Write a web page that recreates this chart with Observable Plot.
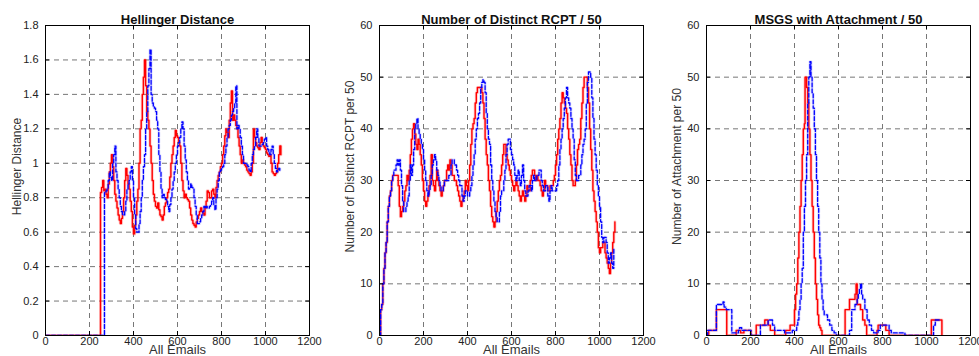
<!DOCTYPE html>
<html>
<head>
<meta charset="utf-8">
<script src="https://cdn.jsdelivr.net/npm/d3@7"></script>
<script src="https://cdn.jsdelivr.net/npm/@observablehq/plot@0.6"></script>
<style>
  html, body { margin: 0; padding: 0; background: #fff; }
  #chart { position: relative; width: 979px; height: 356px; overflow: hidden; background: #fff; }
  #chart > svg { position: absolute; top: 0; }
</style>
</head>
<body>
<div id="chart"></div>
<script>
// ---- Tick labels ----
const xTicks = [0, 200, 400, 600, 800, 1000, 1200];
const hellingerTicks = [0, 0.2, 0.4, 0.6, 0.8, 1, 1.2, 1.4, 1.6, 1.8];
const countTicks = [0, 10, 20, 30, 40, 50, 60];

// ---- Titles ----
const titles = ["Hellinger Distance", "Number of Distinct RCPT / 50", "MSGS with Attachment / 50"];
const yLabels = ["Hellinger Distance", "Number of Distinct RCPT per 50", "Number of Attachment per 50"];
const xLabel = "All Emails";

// ---- Panel 1: Hellinger distance  [email index, value] ----
const hellingerRed = [[0,0],[250,0],[250,0.83],[255,0.86],[260,0.9],[265,0.84],[270,0.85],[275,0.82],[280,0.8],[285,0.88],[290,0.95],[295,1.0],[300,1.05],[305,0.98],[310,0.9],[315,0.82],[320,0.78],[325,0.74],[330,0.7],[335,0.67],[340,0.65],[345,0.68],[350,0.72],[355,0.8],[360,0.9],[365,0.97],[370,0.93],[375,0.88],[380,0.85],[385,0.78],[390,0.72],[395,0.63],[400,0.59],[405,0.64],[410,0.7],[415,0.78],[420,0.85],[425,1.0],[430,1.2],[435,1.25],[440,1.4],[445,1.5],[450,1.6],[455,1.45],[460,1.3],[465,1.25],[470,1.2],[475,1.1],[480,1.0],[485,0.9],[490,0.82],[495,0.78],[500,0.75],[505,0.74],[510,0.77],[515,0.73],[520,0.7],[525,0.69],[530,0.67],[535,0.7],[540,0.75],[545,0.77],[550,0.8],[555,0.83],[560,0.85],[565,0.92],[570,1.0],[575,1.05],[580,1.1],[585,1.15],[590,1.19],[595,1.16],[600,1.15],[605,1.12],[610,1.1],[615,1.0],[620,0.9],[625,0.84],[630,0.8],[635,0.82],[640,0.8],[645,0.79],[650,0.78],[655,0.74],[660,0.7],[665,0.67],[670,0.65],[675,0.64],[680,0.63],[685,0.66],[690,0.68],[695,0.7],[700,0.72],[705,0.74],[710,0.72],[715,0.71],[720,0.7],[725,0.74],[730,0.78],[735,0.84],[740,0.83],[745,0.8],[750,0.8],[755,0.84],[760,0.85],[765,0.82],[770,0.8],[775,0.86],[780,0.9],[785,0.93],[790,0.95],[795,0.98],[800,1.0],[805,1.05],[810,1.1],[815,1.16],[820,1.2],[825,1.18],[830,1.15],[835,1.25],[840,1.35],[845,1.42],[850,1.25],[855,1.28],[860,1.25],[865,1.22],[870,1.2],[875,1.15],[880,1.1],[885,1.05],[890,1.0],[895,1.02],[900,1.0],[905,0.99],[910,0.98],[915,0.96],[920,0.95],[925,0.94],[930,0.93],[935,0.95],[940,1.0],[945,1.2],[950,1.15],[955,1.12],[960,1.1],[965,1.09],[970,1.08],[975,1.12],[980,1.15],[985,1.12],[990,1.1],[995,1.09],[1000,1.08],[1005,1.06],[1010,1.05],[1015,1.04],[1020,1.05],[1025,1.0],[1030,0.95],[1035,0.94],[1040,0.93],[1045,0.94],[1050,0.95],[1055,1.0],[1060,1.05],[1065,1.1],[1070,1.05]];
const hellingerBlue = [[0,0],[268,0],[268,0.83],[275,0.84],[280,0.85],[285,0.9],[290,0.95],[295,0.92],[300,0.9],[305,1.0],[310,1.05],[315,1.1],[320,0.95],[325,0.9],[330,0.85],[335,0.8],[340,0.75],[345,0.72],[350,0.7],[355,0.7],[360,0.72],[365,0.78],[370,0.85],[375,0.88],[380,0.9],[385,0.95],[390,0.98],[395,0.9],[400,0.8],[405,0.7],[410,0.62],[415,0.6],[420,0.6],[425,0.65],[430,0.72],[435,0.8],[440,0.9],[445,0.98],[450,1.05],[455,1.2],[460,1.3],[465,1.45],[470,1.55],[475,1.66],[480,1.4],[485,1.35],[490,1.33],[495,1.32],[500,1.3],[505,1.25],[510,1.2],[515,1.05],[520,0.95],[525,0.85],[530,0.8],[535,0.82],[540,0.8],[545,0.79],[550,0.78],[555,0.75],[560,0.72],[565,0.76],[570,0.8],[575,0.85],[580,0.9],[585,0.95],[590,1.0],[595,1.05],[600,1.1],[605,1.12],[610,1.15],[615,1.2],[620,1.24],[625,1.2],[630,1.1],[635,1.02],[640,0.95],[645,0.9],[650,0.85],[655,0.86],[660,0.88],[665,0.86],[670,0.85],[675,0.8],[680,0.75],[685,0.7],[690,0.65],[695,0.65],[700,0.66],[705,0.68],[710,0.7],[715,0.72],[720,0.75],[725,0.74],[730,0.75],[735,0.74],[740,0.74],[745,0.75],[750,0.76],[755,0.78],[760,0.8],[765,0.76],[770,0.73],[775,0.8],[780,0.85],[785,0.9],[790,0.95],[795,0.96],[800,0.97],[805,0.98],[810,1.0],[815,1.05],[820,1.1],[825,1.15],[830,1.2],[835,1.22],[840,1.25],[845,1.28],[850,1.3],[855,1.32],[860,1.35],[865,1.45],[870,1.2],[875,1.22],[880,1.2],[885,1.15],[890,1.1],[895,1.05],[900,1.0],[905,1.0],[910,1.0],[915,0.99],[920,0.98],[925,0.96],[930,0.95],[935,1.0],[940,1.05],[945,1.08],[950,1.1],[955,1.15],[960,1.2],[965,1.15],[970,1.1],[975,1.1],[980,1.1],[985,1.11],[990,1.12],[995,1.14],[1000,1.15],[1005,1.1],[1010,1.08],[1015,1.06],[1020,1.05],[1025,1.08],[1030,1.1],[1035,1.05],[1040,1.0],[1045,0.97],[1050,0.95],[1055,0.96],[1060,0.97],[1065,0.95]];

// ---- Panel 2: distinct recipients per 50 ----
const rcptRed = [[0,0],[5,5],[10,6],[15,10],[20,13],[25,16],[30,18],[35,22],[40,25],[45,27],[50,28],[55,30],[60,31],[70,31],[80,31],[85,29],[90,25],[95,23],[100,24],[105,25],[110,26],[115,28],[120,29],[125,31],[130,30],[135,32],[140,35],[145,38],[150,40],[155,41],[160,39],[165,37],[170,36],[175,38],[180,37],[185,35],[190,33],[195,30],[200,28],[205,26],[210,25],[215,26],[220,27],[225,29],[230,31],[235,35],[240,30],[245,29],[250,28],[255,30],[260,32],[265,30],[270,29],[275,28],[280,27],[285,28],[290,29],[295,30],[300,30],[305,32],[310,33],[315,32],[320,34],[325,33],[330,31],[335,31],[340,30],[345,30],[350,29],[355,28],[360,27],[365,26],[370,25],[375,26],[380,27],[385,28],[390,30],[395,29],[400,28],[405,30],[410,33],[415,37],[420,40],[425,41],[430,42],[435,45],[440,47],[445,48],[450,48],[455,48],[460,48],[465,47],[470,45],[475,42],[480,38],[485,35],[490,33],[495,30],[500,28],[505,25],[510,23],[515,22],[520,21],[525,22],[530,24],[535,26],[540,28],[545,30],[550,31],[555,33],[560,35],[565,37],[570,37],[575,35],[580,34],[585,33],[590,32],[595,31],[600,30],[605,29],[610,28],[615,29],[620,30],[625,29],[630,28],[635,27],[640,26],[645,27],[650,28],[655,27],[660,26],[665,27],[670,29],[675,28],[680,28],[685,30],[690,31],[695,32],[700,32],[705,31],[710,30],[715,31],[720,30],[725,30],[730,29],[735,28],[740,27],[745,28],[750,30],[755,29],[760,29],[765,28],[770,28],[775,29],[780,29],[785,29],[790,30],[795,31],[800,33],[805,35],[810,38],[815,40],[820,42],[825,45],[830,47],[835,46],[840,45],[845,44],[850,43],[855,40],[860,38],[865,35],[870,33],[875,30],[880,29],[885,29],[890,30],[895,33],[900,36],[905,37],[910,38],[915,42],[920,45],[925,48],[930,50],[935,50],[940,50],[945,48],[950,45],[955,40],[960,36],[965,32],[970,28],[975,26],[980,24],[985,22],[990,20],[995,17],[1000,16],[1005,17],[1010,17],[1015,18],[1020,18],[1025,16],[1030,15],[1035,14],[1040,13],[1045,12],[1050,14],[1055,16],[1060,18],[1065,20],[1070,22]];
const rcptBlue = [[0,0],[5,5],[10,6],[15,10],[20,13],[25,16],[30,18],[35,22],[40,25],[45,27],[50,28],[55,30],[60,31],[65,32],[70,32],[75,33],[80,34],[85,33],[90,34],[95,32],[100,29],[105,26],[110,24],[115,24],[120,25],[125,26],[130,27],[135,30],[140,33],[145,31],[150,33],[155,36],[160,40],[165,41],[170,42],[175,40],[180,39],[185,38],[190,37],[195,36],[200,34],[205,32],[210,30],[215,28],[220,27],[225,28],[230,29],[235,31],[240,33],[245,34],[250,35],[255,34],[260,32],[265,31],[270,30],[275,29],[280,28],[285,28],[290,29],[295,30],[300,30],[305,30],[310,30],[315,31],[320,31],[325,33],[330,34],[335,34],[340,33],[345,33],[350,32],[355,31],[360,30],[365,29],[370,29],[375,27],[380,26],[385,27],[390,28],[395,28],[400,27],[405,27],[410,28],[415,29],[420,31],[425,33],[430,35],[435,38],[440,40],[445,42],[450,43],[455,45],[460,48],[465,49],[470,49.5],[475,49],[480,47],[485,43],[490,40],[495,38],[500,37],[505,33],[510,30],[515,28],[520,26],[525,24],[530,23],[535,22],[540,22],[545,24],[550,27],[555,28],[560,28],[565,30],[570,32],[575,35],[580,37],[585,38],[590,38],[595,36],[600,35],[605,34],[610,33],[615,31],[620,30],[625,31],[630,32],[635,30],[640,29],[645,31],[650,33],[655,30],[660,28],[665,27],[670,27],[675,28],[680,29],[685,29],[690,28],[695,30],[700,31],[705,30],[710,30],[715,31],[720,31],[725,32],[730,32],[735,30],[740,29],[745,28],[750,28],[755,29],[760,29],[765,27],[770,26],[775,28],[780,29],[785,28],[790,28],[795,28],[800,28],[805,29],[810,30],[815,33],[820,36],[825,38],[830,40],[835,42],[840,44],[845,46],[850,48],[855,46],[860,45],[865,44],[870,42],[875,40],[880,38],[885,34],[890,31],[895,30],[900,30],[905,31],[910,31],[915,33],[920,35],[925,37],[930,38],[935,40],[940,45],[945,49],[950,51],[955,51],[960,50],[965,46],[970,42],[975,38],[980,35],[985,32],[990,29],[995,27],[1000,25],[1005,22],[1010,19],[1015,18],[1020,19],[1025,19],[1030,18],[1035,16],[1040,14],[1045,15],[1050,16],[1055,14],[1060,13],[1065,17]];

// ---- Panel 3: messages with attachment per 50 ----
const attachRed = [[0,0],[10,1],[40,1],[45,5],[55,5],[60,5],[90,5],[92,0],[130,0],[135,1],[150,1],[155,0.5],[170,1],[200,1],[202,0],[225,0],[226,2],[260,2],[265,3],[275,3],[280,2],[290,1],[300,1],[310,0],[355,0],[360,1],[375,1],[380,2],[395,2],[400,5],[405,8],[410,10],[415,15],[420,20],[425,25],[430,30],[435,35],[440,40],[445,41],[448,50],[452,50],[455,48],[460,45],[465,40],[470,35],[475,30],[480,25],[485,20],[490,15],[495,10],[500,7],[505,4],[510,2],[515,1.5],[520,1],[525,0],[625,0],[630,5],[645,5],[650,7],[670,7],[675,8],[680,10],[685,6],[695,6],[700,5],[710,3],[720,2],[728,0],[770,0],[775,1],[780,2],[805,2],[810,2],[815,1],[825,1],[830,0],[1020,0],[1022,3],[1068,3],[1070,0]];
const attachBlue = [[0,0],[5,1],[40,1],[45,6],[60,6],[70,6],[75,6.5],[80,5.5],[90,5],[110,5],[115,0.5],[140,0.5],[145,1],[150,1.5],[160,1],[200,1],[202,0],[240,0],[245,2],[270,2],[280,3],[295,3],[300,2],[310,1],[350,1],[355,0.5],[385,0.5],[390,1],[405,1],[410,2],[415,3],[420,5],[425,7],[430,10],[435,13],[440,20],[445,25],[450,30],[455,35],[460,45],[465,50],[470,53],[475,50],[480,47],[485,44],[490,40],[495,35],[500,30],[505,25],[510,20],[515,15],[520,10],[525,7],[530,5],[535,4],[545,4],[550,3],[560,2],[570,1],[580,0.5],[590,0],[648,0],[650,1],[658,1],[660,5],[675,6],[685,7],[690,8],[695,9],[700,10],[705,8],[710,7],[720,5],[730,3],[740,2],[750,1],[760,0.5],[775,0.5],[780,1],[790,2],[825,2],[830,1],[840,0.5],[900,0.5],[902,0],[1030,0],[1032,2],[1040,3],[1065,3]];

const series = [
  {red: hellingerRed, blue: hellingerBlue, yDomain: [0, 1.8], yTicks: hellingerTicks},
  {red: rcptRed, blue: rcptBlue, yDomain: [0, 60], yTicks: countTicks},
  {red: attachRed, blue: attachBlue, yDomain: [0, 60], yTicks: countTicks}
];
const layout = [
  {left: 0, width: 330, marginLeft: 45, marginRight: 21, labelDx: -28},
  {left: 330, width: 330, marginLeft: 49, marginRight: 17, labelDx: -29},
  {left: 660, width: 319, marginLeft: 46, marginRight: 9, labelDx: -29}
];

const H = 356, MT = 25, MB = 21;
const container = document.getElementById("chart");

series.forEach((s, i) => {
  const L = layout[i];
  const iw = L.width - L.marginLeft - L.marginRight;
  const ih = H - MT - MB;
  const curve = "step-after";
  const px = d => d[0], py = d => d[1];
  const plot = Plot.plot({
    width: L.width,
    height: H,
    marginTop: MT,
    marginBottom: MB,
    marginLeft: L.marginLeft,
    marginRight: L.marginRight,
    x: {domain: [0, 1200]},
    y: {domain: s.yDomain},
    style: {fontFamily: "'Liberation Sans', Arial, sans-serif", color: "#222", background: "white", overflow: "hidden"},
    marks: [
      Plot.gridX(xTicks.slice(1, -1), {stroke: "#777", strokeOpacity: 1, strokeDasharray: "5,4"}),
      Plot.gridY(s.yTicks.slice(1, -1), {stroke: "#777", strokeOpacity: 1, strokeDasharray: "5,4"}),
      Plot.line(s.red, {x: px, y: py, curve, stroke: "#ff3333", strokeWidth: 3, strokeOpacity: 0.25, clip: true}),
      Plot.line(s.red, {x: px, y: py, curve, stroke: "#ff0000", strokeWidth: 1.4, clip: true}),
      Plot.line(s.blue, {x: px, y: py, curve, stroke: "#5555ff", strokeWidth: 3, strokeOpacity: 0.2, strokeDasharray: "4,2", clip: true}),
      Plot.line(s.blue, {x: px, y: py, curve, stroke: "#0000ff", strokeWidth: 1.3, strokeDasharray: "4,2", clip: true}),
      Plot.tickY(s.yTicks, {y: d => d, stroke: "black", insetRight: iw - 4}),
      Plot.tickY(s.yTicks, {y: d => d, stroke: "black", insetLeft: iw - 4}),
      Plot.tickX(xTicks, {x: d => d, stroke: "black", insetTop: ih - 4}),
      Plot.tickX(xTicks, {x: d => d, stroke: "black", insetBottom: ih - 4}),
      Plot.frame({stroke: "black"}),
      Plot.axisY(s.yTicks, {tickSize: 0, tickPadding: 7, fontSize: 11, label: null, tickFormat: d => String(d)}),
      Plot.axisX(xTicks, {tickSize: 0, tickPadding: 2, fontSize: 11, label: null, tickFormat: d => String(d)}),
      Plot.text([titles[i]], {frameAnchor: "top", dy: -11, fontSize: 13, fontWeight: "bold", fill: "#111"}),
      Plot.text([yLabels[i]], {frameAnchor: "left", textAnchor: "middle", rotate: -90, dx: L.labelDx, dy: -14, fontSize: 12, fill: "#333"}),
      Plot.text([xLabel], {frameAnchor: "bottom", dy: 18, fontSize: 13, fill: "#333"})
    ]
  });
  plot.style.left = L.left + "px";
  container.appendChild(plot);
});
</script>
</body>
</html>
